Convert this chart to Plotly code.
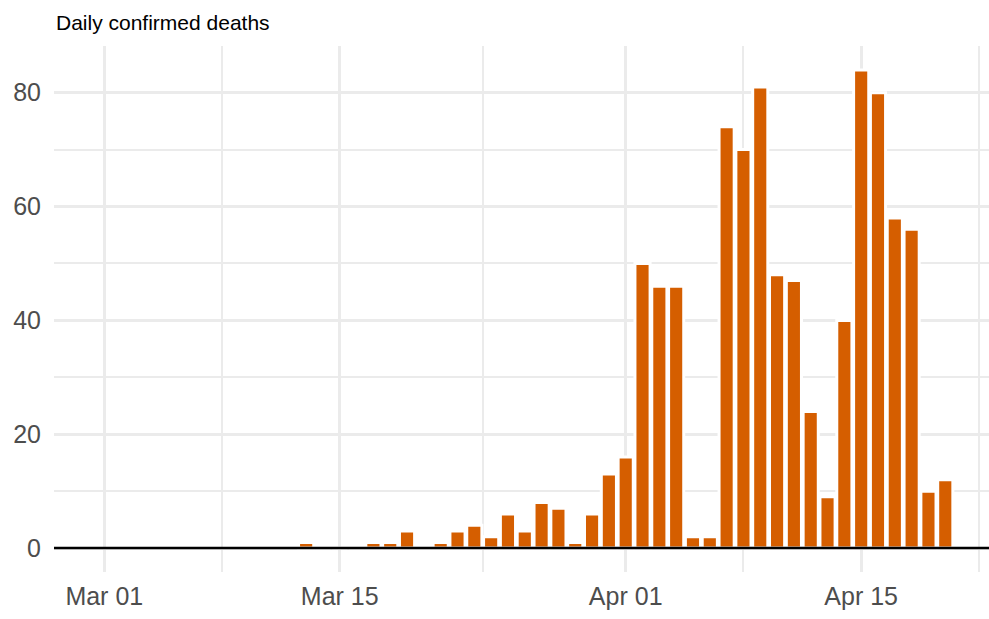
import plotly.graph_objects as go

dates = ["2020-03-13", "2020-03-14", "2020-03-15", "2020-03-16", "2020-03-17", "2020-03-18",
         "2020-03-19", "2020-03-20", "2020-03-21", "2020-03-22", "2020-03-23", "2020-03-24",
         "2020-03-25", "2020-03-26", "2020-03-27", "2020-03-28", "2020-03-29", "2020-03-30",
         "2020-03-31", "2020-04-01", "2020-04-02", "2020-04-03", "2020-04-04", "2020-04-05",
         "2020-04-06", "2020-04-07", "2020-04-08", "2020-04-09", "2020-04-10", "2020-04-11",
         "2020-04-12", "2020-04-13", "2020-04-14", "2020-04-15", "2020-04-16", "2020-04-17",
         "2020-04-18", "2020-04-19", "2020-04-20"]
deaths = [1, 0, 0, 0, 1, 1,
          3, 0, 1, 3, 4, 2,
          6, 3, 8, 7, 1, 6,
          13, 16, 50, 46, 46, 2,
          2, 74, 70, 81, 48, 47,
          24, 9, 40, 84, 80, 58,
          56, 10, 12]

x_tickvals = ["2020-03-01", "2020-03-15", "2020-04-01", "2020-04-15"]
x_ticktext = ["Mar 01", "Mar 15", "Apr 01", "Apr 15"]
x_minor = ["2020-03-08", "2020-03-23 12:00", "2020-04-08", "2020-04-22"]
y_tickvals = [0, 20, 40, 60, 80]
y_minor = [10, 30, 50, 70]

DAY_MS = 86400000
FONT = "Liberation Sans, Arial, Helvetica, sans-serif"
GRID = "#ebebeb"

fig = go.Figure()
fig.add_trace(go.Bar(
    x=dates, y=deaths,
    width=[0.9 * DAY_MS] * len(dates),
    marker=dict(color="#D55E00", line=dict(color="white", width=3)),
))

fig.add_shape(type="line", xref="paper", yref="y", x0=0, x1=1, y0=0, y1=0,
              line=dict(color="black", width=2.5), layer="above")

fig.add_annotation(text="Daily confirmed deaths", xref="paper", yref="paper",
                   x=0, y=1, xanchor="left", yanchor="bottom", yshift=10,
                   showarrow=False, font=dict(family=FONT, size=21, color="black"))

fig.update_layout(
    width=989, height=619,
    margin=dict(l=54, r=0, t=46, b=47),
    plot_bgcolor="white", paper_bgcolor="white",
    showlegend=False,
    font=dict(family=FONT),
    xaxis=dict(
        type="date",
        range=["2020-02-27 00:14", "2020-04-22 14:24"],
        tickmode="array", tickvals=x_tickvals, ticktext=x_ticktext,
        showgrid=True, gridcolor=GRID, gridwidth=2.5,
        minor=dict(tickvals=x_minor, showgrid=True, gridcolor=GRID, gridwidth=1.5),
        zeroline=False, showline=False,
        tickfont=dict(family=FONT, size=25, color="#4d4d4d"),
        ticklabelstandoff=7,
    ),
    yaxis=dict(
        range=[-4.2, 88.2],
        tickmode="array", tickvals=y_tickvals,
        showgrid=True, gridcolor=GRID, gridwidth=2.5,
        minor=dict(tickvals=y_minor, showgrid=True, gridcolor=GRID, gridwidth=1.5),
        zeroline=False, showline=False,
        tickfont=dict(family=FONT, size=25, color="#4d4d4d"),
        ticklabelstandoff=12,
    ),
)

fig.write_html("out.html", config={"displayModeBar": False},
               post_script="document.body.style.margin='0';document.body.style.overflow='hidden';")
